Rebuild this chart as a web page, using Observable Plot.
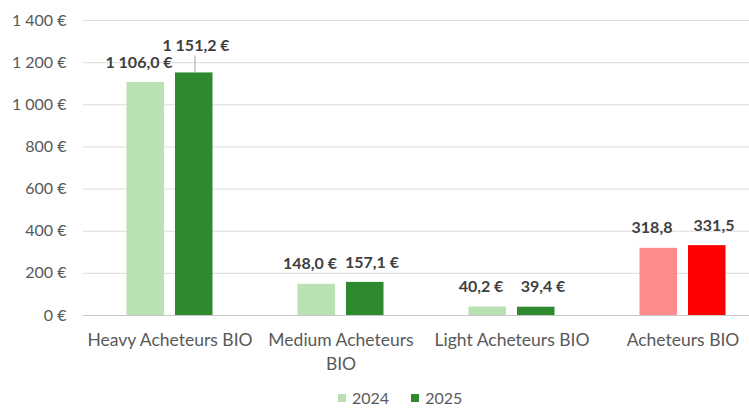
<!DOCTYPE html>
<html>
<head>
<meta charset="utf-8">
<script src="https://cdn.jsdelivr.net/npm/d3@7"></script>
<script src="https://cdn.jsdelivr.net/npm/@observablehq/plot@0.6"></script>
<style>
  html, body { margin: 0; padding: 0; background: #fff; }
  #wrap { width: 749px; height: 409px; overflow: hidden; position: relative; font-family: Lato, sans-serif; }
  #legend { position: absolute; left: 338px; top: 389px; display: flex; gap: 22px; font-size: 16px; line-height: 18px; color: #595959; }
  #legend span { display: inline-flex; align-items: center; gap: 6px; }
  #legend i { display: inline-block; width: 8px; height: 8px; }
</style>
</head>
<body>
<div id="wrap"><div id="chart"></div><div id="legend"></div></div>
<script>
const categories = ["Heavy Acheteurs BIO", "Medium Acheteurs BIO", "Light Acheteurs BIO", "Acheteurs BIO"];
const categoryLabels = ["Heavy Acheteurs BIO", "Medium Acheteurs\nBIO", "Light Acheteurs BIO", "Acheteurs BIO"];
const years = ["2024", "2025"];
const values2024 = [1106.0, 148.0, 40.2, 318.8];
const values2025 = [1151.2, 157.1, 39.4, 331.5];
const labels2024 = ["1 106,0 €", "148,0 €", "40,2 €", "318,8"];
const labels2025 = ["1 151,2 €", "157,1 €", "39,4 €", "331,5"];
const yTicks = [0, 200, 400, 600, 800, 1000, 1200, 1400];

const green = {"2024": "#b9e1b2", "2025": "#2f892f"};
const red = {"2024": "#ff8c8c", "2025": "#ff0000"};
const totalCategory = "Acheteurs BIO";

const rows = [];
categories.forEach((c, i) => {
  rows.push({cat: c, year: "2024", value: values2024[i], label: labels2024[i]});
  rows.push({cat: c, year: "2025", value: values2025[i], label: labels2025[i]});
});
const fillOf = d => (d.cat === totalCategory ? red : green)[d.year];
const r24 = rows.filter(d => d.year === "2024");
const r25 = rows.filter(d => d.year === "2025");
// labels of tall bars would collide with their neighbour: lift them and add a leader line
const lifted = d => d.value > 1000;
const r25n = r25.filter(d => !lifted(d));
const r25l = r25.filter(lifted);

const labelStyle = {fontSize: 16, fontWeight: "bold", fill: "#404040"};

const chart = Plot.plot({
  width: 749,
  height: 392,
  marginLeft: 83,
  marginRight: 0,
  marginTop: 20,
  marginBottom: 77,
  style: {fontFamily: "Lato, sans-serif", background: "#fff", overflow: "hidden"},
  x: {domain: categories, range: [83, 769], padding: 0, axis: null},
  y: {domain: [0, 1400], axis: null},
  color: {type: "identity"},
  marks: [
    Plot.ruleY(yTicks.filter(t => t > 0), {stroke: "#dcdcdc", strokeWidth: 1}),
    Plot.ruleY([0], {stroke: "#c8c8c8", strokeWidth: 1}),
    Plot.barY(r24, {x: "cat", y: "value", fill: fillOf, insetLeft: 42.5, insetRight: 91}),
    Plot.barY(r25, {x: "cat", y: "value", fill: fillOf, insetLeft: 91, insetRight: 42.5}),
    Plot.ruleX(r25l, {x: "cat", y1: "value", y2: "value", dx: 25, insetTop: -17, stroke: "#a6a6a6", strokeWidth: 1}),
    Plot.text(r24, {x: "cat", y: "value", text: "label", dx: -31, dy: -20, ...labelStyle}),
    Plot.text(r25n, {x: "cat", y: "value", text: "label", dx: 31, dy: -20, ...labelStyle}),
    Plot.text(r25l, {x: "cat", y: "value", text: "label", dx: 26, dy: -27, ...labelStyle}),
    Plot.axisY(yTicks, {tickSize: 0, tickPadding: 17, fontSize: 16, fill: "#595959", label: null,
      tickFormat: d => d3.format(",")(d).replace(/,/g, " ") + " €"}),
    Plot.text(categories, {x: d => d, frameAnchor: "bottom", dy: 14, lineAnchor: "top", lineHeight: 1.35,
      text: (d, i) => categoryLabels[i], fontSize: 17.5, fill: "#595959"})
  ]
});
document.getElementById("chart").appendChild(chart);

const legend = document.getElementById("legend");
years.forEach(y => {
  const s = document.createElement("span");
  s.innerHTML = `<i style="background:${green[y]}"></i>${y}`;
  legend.appendChild(s);
});
</script>
</body>
</html>
